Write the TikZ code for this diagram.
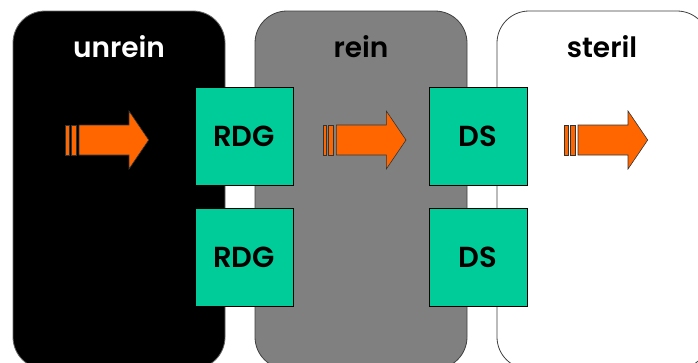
\documentclass[tikz,border=0pt]{standalone}
\usepackage{fontspec}
\setmainfont{Poppins}[BoldFont={Poppins SemiBold}]
\definecolor{zonegray}{HTML}{808080}
\definecolor{lockgreen}{HTML}{00CC99}
\definecolor{floworange}{HTML}{FF6600}
\begin{document}
\begin{tikzpicture}[x=1pt,y=-1pt,
  zone/.style={rounded corners=32pt, draw=black!75, line width=0.8pt},
  zonelabel/.style={anchor=base, font=\bfseries\fontsize{28}{30}\selectfont},
  lock/.style={draw=black, line width=0.9pt, fill=lockgreen, minimum width=98pt,
    minimum height=98pt, inner sep=0pt, font=\bfseries\fontsize{29}{30}\selectfont},
  flowpart/.style={fill=floworange, draw=black!80, line width=0.6pt, line join=miter},
  flowarrow/.pic={
    \path[flowpart] (0,-15) rectangle (3.3,15);
    \path[flowpart] (5.3,-15) rectangle (10.7,15);
    \path[flowpart] (13.3,-15) -- (63.3,-15) -- (63.3,-29) -- (83,0)
      -- (63.3,29) -- (63.3,15) -- (13.3,15) -- cycle;
  }]
\useasboundingbox (0,0) rectangle (698,362);
\clip (0,0) rectangle (698,362);
\fill[white] (0,0) rectangle (698,362);

% the three zones
\path[zone, fill=black, draw=black!60] (13,11) rectangle (225,369);
\path[zone, fill=zonegray] (255,11) rectangle (467,369);
\path[zone, fill=white] (497,11) rectangle (709,369);

\node[zonelabel, text=white] (unrein) at (119,57) {unrein};
\node[zonelabel] (rein) at (361,57) {rein};
\node[zonelabel] (steril) at (602,57) {steril};

% locks between the zones
\node[lock] (rdg1) at (244,136) {RDG};
\node[lock] (rdg2) at (244,257) {RDG};
\node[lock] (ds1) at (478,136) {DS};
\node[lock] (ds2) at (478,257) {DS};

% flow direction
\pic at (65.7,140) {flowarrow};
\pic at (323,140) {flowarrow};
\pic at (564.7,140) {flowarrow};
\end{tikzpicture}
\end{document}
